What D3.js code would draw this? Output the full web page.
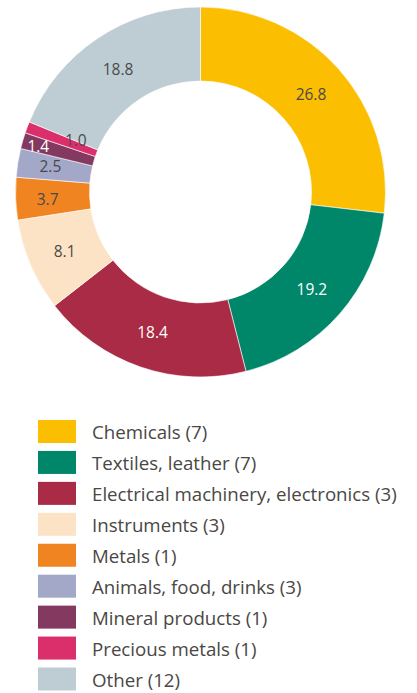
<!DOCTYPE html>
<html><head><meta charset="utf-8">
<script src="https://cdn.jsdelivr.net/npm/d3@7"></script>
<style>body{margin:0;background:#fff;}svg{display:block;}</style>
</head><body>
<script>
const categories = ["Chemicals (7)","Textiles, leather (7)","Electrical machinery, electronics (3)","Instruments (3)","Metals (1)","Animals, food, drinks (3)","Mineral products (1)","Precious metals (1)","Other (12)"];
const values = [26.8,19.2,18.4,8.1,3.7,2.5,1.4,1.0,18.8];
const labels = ["26.8","19.2","18.4","8.1","3.7","2.5","1.4","1.0","18.8"];
const colors = ["#FBBE00","#00876A","#AA2B45","#FDE3C5","#F08421","#A3A8C8","#843A60","#DB2F6B","#BECDD4"];
const labelColors = ["#4a4a4a","#ffffff","#ffffff","#4a4a4a","#4a4a4a","#4a4a4a","#ffffff","#4a4a4a","#4a4a4a"];

const W=417,H=693, cx=200.5, cy=192, rOut=185, rIn=111;
const svg=d3.select("body").append("svg").attr("width",W).attr("height",H);
const data=values.map((v,i)=>({v,i}));
const pie=d3.pie().value(d=>d.v).sort(null);
const arc=d3.arc().innerRadius(rIn).outerRadius(rOut);
const g=svg.append("g").attr("transform",`translate(${cx},${cy})`);
const arcs=pie(data);
g.selectAll("path").data(arcs).join("path")
  .attr("d",arc).attr("fill",d=>colors[d.data.i])
  .attr("stroke","#fff").attr("stroke-width",0.6);
// small nudges for crowded thin slices
const nudge={6:[-20,-5],7:[14,0],5:[-4,-3],4:[-5,2]};
g.selectAll("text").data(arcs).join("text")
  .attr("x",d=>arc.centroid(d)[0]+((nudge[d.data.i]||[0,0])[0]))
  .attr("y",d=>arc.centroid(d)[1]+((nudge[d.data.i]||[0,0])[1]))
  .attr("text-anchor","middle").attr("dominant-baseline","central")
  .attr("font-family","Open Sans, sans-serif").attr("font-size",15.5)
  .attr("fill",d=>labelColors[d.data.i])
  .text(d=>labels[d.data.i]);

const leg=svg.append("g");
const rowY=d3.scalePoint().domain(d3.range(categories.length)).range([431.5,679]);
categories.forEach((c,i)=>{
  leg.append("rect").attr("x",38).attr("y",rowY(i)-11.5).attr("width",38).attr("height",23).attr("fill",colors[i]);
  leg.append("text").attr("x",92).attr("y",rowY(i)).attr("dominant-baseline","central")
    .attr("font-family","Open Sans, sans-serif").attr("font-size",18.7).attr("fill","#4a4744").text(c);
});
</script>
</body></html>
